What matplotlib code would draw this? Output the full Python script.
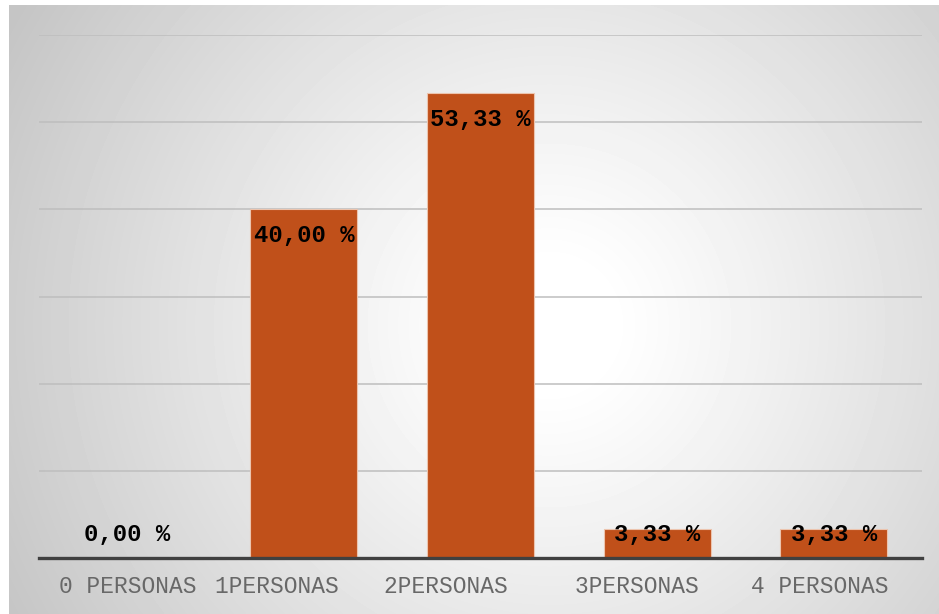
import numpy as np
import matplotlib
matplotlib.use("Agg")
import matplotlib.pyplot as plt

# Household size distribution (percent of respondents)
categories = ["0 PERSONAS", "1PERSONAS    ", "2PERSONAS     ", "3PERSONAS   ", "4 PERSONAS  "]
values = [0.00, 40.00, 53.33, 3.33, 3.33]

bar_color = "#C0501A"
W, H = 939, 614
fig = plt.figure(figsize=(W / 100, H / 100), dpi=100)
fig.patch.set_facecolor("white")

# Radial grey-to-white backdrop behind the chart area
bg = fig.add_axes([9 / W, 0, (W - 9) / W, (H - 5) / H], zorder=-5)
bw, bh = W - 9, H - 5
yy, xx = np.mgrid[0:bh, 0:bw]
cx, cy = 540, 320
r = np.hypot(xx - cx, yy - cy)
t = np.clip((r - 60) / 560, 0, 1)
shade = 1.0 - 0.23 * t ** 1.1
bg.imshow(shade, cmap="gray", vmin=0, vmax=1, aspect="auto", interpolation="bilinear")
bg.set_axis_off()

ax = fig.add_axes([39 / W, 56 / H, (922 - 39) / W, (558 - 35) / H])
ax.set_facecolor("none")
x = np.arange(len(categories))
ax.bar(x, values, width=0.605, color=bar_color, edgecolor="#ecc4ae", linewidth=0.8, zorder=3)

ax.set_xlim(-0.5, len(categories) - 0.5)
ax.set_ylim(0, 60)
ax.set_yticks(np.arange(0, 61, 10))
ax.yaxis.grid(True, color="#bebebe", linewidth=1.1, zorder=0)
ax.tick_params(axis="y", left=False, labelleft=False)
for s in ["top", "right", "left"]:
    ax.spines[s].set_visible(False)
ax.spines["bottom"].set_color("#404040")
ax.spines["bottom"].set_linewidth(2.4)
ax.spines["bottom"].set_zorder(4)

ax.set_xticks(x)
ax.set_xticklabels(categories, fontfamily="Liberation Mono", fontsize=16.5, color="#686868")
ax.tick_params(axis="x", length=0, pad=12)

for xi, v in zip(x, values):
    ypos = max(v - 3.0, 2.75)
    ax.text(xi, ypos, f"{v:.2f} %".replace(".", ","), ha="center", va="center",
            fontfamily="Liberation Mono", fontweight="bold", fontsize=17.2,
            color="black", zorder=5)

fig.savefig("out.png", dpi=100)
